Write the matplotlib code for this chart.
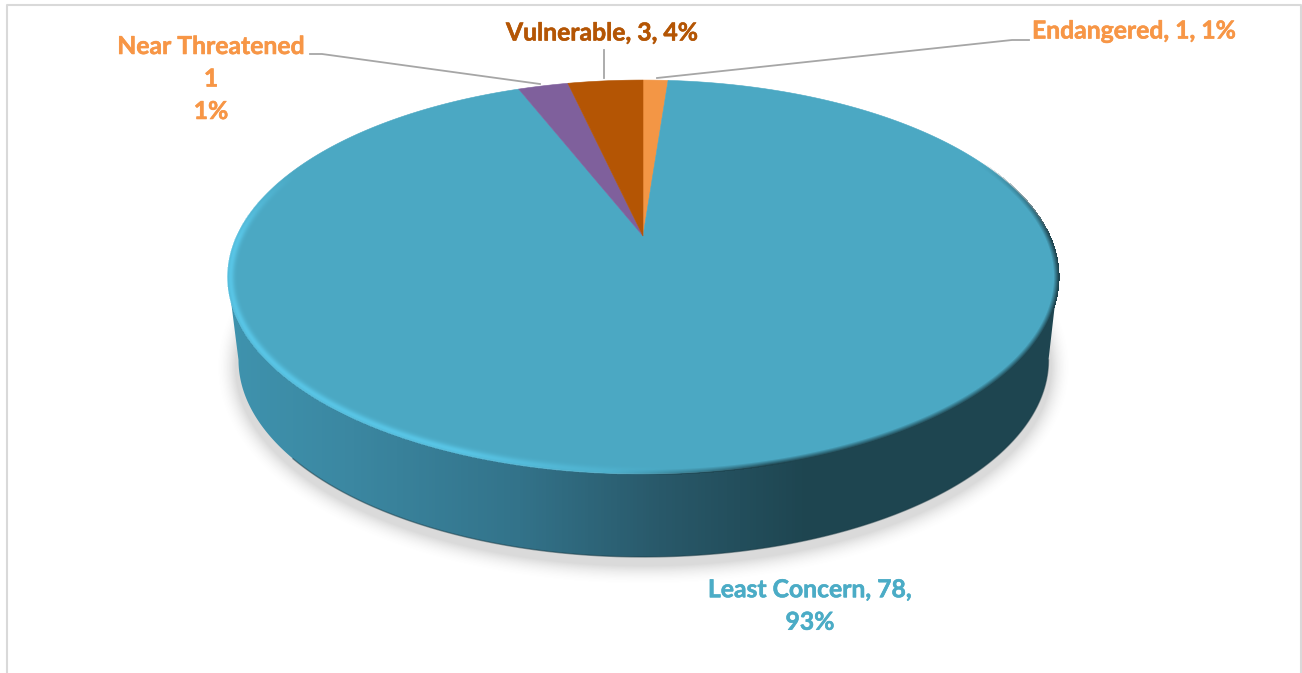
import numpy as np
import matplotlib
matplotlib.use("Agg")
import matplotlib.pyplot as plt
import matplotlib.patheffects as pe
from matplotlib.colors import LinearSegmentedColormap
from matplotlib.patches import Polygon

# clockwise from 12 o'clock. near threatened is labelled 1 but drawn wider, 2 fits the slice
categories = ["Endangered", "Least Concern", "Near Threatened", "Vulnerable"]
slice_values = [1, 78, 2, 3]
slice_colors = ["#F39645", "#4BA8C3", "#7F609C", "#B45504"]
label_texts = ["Endangered, 1, 1%", "Least Concern, 78,\n93%", "Near Threatened\n1\n1%", "Vulnerable, 3, 4%"]
label_colors = ["#F79646", "#4BACC6", "#F79646", "#B45504"]
label_pos = [(1134, 31), (810, 606), (211, 79), (602, 33)]
leader_lines = [[(1029, 40), (1012, 40), (657, 78)], None, [(310, 54), (322, 54), (540, 84)], [(604, 50), (604, 78)]]

# side wall shading, left to right across the disc
wall_stops = [(0.0, "#3F93AE"), (0.15, "#3B87A1"), (0.35, "#33738A"), (0.52, "#29596A"), (0.7, "#1E4550"), (1.0, "#1E4550")]

plt.rcParams["font.family"] = ["Lato", "DejaVu Sans"]

K = 0.208  # perspective strength of the tilted disc
fig = plt.figure(figsize=(13.02, 6.73), dpi=100)
ax = fig.add_axes([0, 0, 1, 1])


# tilted disc: circle (u, v) goes through a perspective map, so the apex is not the ellipse centre
def project(theta, r=1.0):
    u = r * np.sin(theta)
    v = r * np.cos(theta)
    w = 1 + K * v
    return 643 + 406 * u / w, 236 - 188.4 * v / w


def overlay(rgb, alpha, zorder):
    img = np.zeros(alpha.shape + (4,))
    img[..., :3] = rgb
    img[..., 3] = np.clip(alpha, 0, 1)
    ax.imshow(img, extent=(0, 1302, 673, 0), aspect="auto", zorder=zorder, interpolation="nearest")


def ramp(a, lo, hi):
    return np.clip((a - lo) / (hi - lo), 0, 1)


# outer chart frame
ax.plot([7, 7, 1300.5, 1300.5], [673, 5, 5, 673], color="#D9D9D9", lw=1.5, zorder=1)

px, py = np.meshgrid(np.arange(1302) + 0.5, np.arange(673) + 0.5)

# soft shadow under the disc
e = np.hypot((px - 643.5) / 408, (py - 367) / 199)
ge = np.hypot(*np.gradient(e))
overlay((0.35, 0.35, 0.35), 0.22 * (1 - ramp((e - 1) / ge, 0, 20)) ** 2 * (e > 0.9), 1.5)

# side wall
t0 = np.pi / 2 + np.arcsin(K)
front = np.linspace(t0, 2 * np.pi - t0, 360)
rim_x, rim_y = project(front)
base = np.linspace(np.pi / 2, 3 * np.pi / 2, 360)
low_x = 643.5 + 405 * np.sin(base)
low_y = 360 - 197 * np.cos(base)
wall = Polygon(np.r_[np.c_[rim_x, rim_y], np.c_[low_x, low_y][::-1]], closed=True, fc="none", ec="none")
ax.add_patch(wall)
cmap = LinearSegmentedColormap.from_list("wall", wall_stops)
im = ax.imshow(np.linspace(0, 1, 256)[None, :], cmap=cmap, extent=(228, 1058, 560, 270), aspect="auto", zorder=2)
im.set_clip_path(wall)
ax.plot(low_x[:300], low_y[:300], color="#1A3A44", alpha=0.5, lw=1, zorder=2.5)

# slices on the top face
edges = np.r_[0, np.cumsum(slice_values)] / sum(slice_values) * 2 * np.pi
for i, color in enumerate(slice_colors):
    ang = np.linspace(edges[i], edges[i + 1], 300)
    x, y = project(ang)
    ax.fill(np.r_[643, x], np.r_[236, y], color=color, lw=0.4, zorder=3)

# bevel along the rim: light on the left and front, dark blur on the right
yp = (236 - py) / 188.4
with np.errstate(divide="ignore", invalid="ignore"):
    v = yp / (1 - K * yp)
    u = (px - 643) / 406 * (1 + K * v)
r = np.hypot(u, v)
theta = np.mod(np.arctan2(u, v), 2 * np.pi)
dist = (1 - r) / np.hypot(*np.gradient(r))  # rough pixels inside the rim
bad = (1 - K * yp) <= 0
dist[bad] = -99

dark = ramp(theta, 0.36 * np.pi, 0.5 * np.pi) * (1 - ramp(theta, 0.92 * np.pi, 1.02 * np.pi))
overlay(np.array([0x1E, 0x45, 0x50]) / 255, dark * (1 - ramp(dist, -0.5, 4.5)) * (dist > -1.5), 4)

light = ramp(theta, 0.98 * np.pi, 1.12 * np.pi) * (1 - ramp(theta, 1.5 * np.pi, 1.62 * np.pi))
profile = np.exp(-(((dist - 2.5) / 3.8) ** 2)) * (dist > -1)
overlay(np.array([0x5C, 0xCC, 0xEE]) / 255, 0.8 * light * profile, 4)

ax.set_xlim(0, 1302)
ax.set_ylim(673, 0)
ax.axis("off")

for line in leader_lines:
    if line is not None:
        ax.plot(*zip(*line), color="#A6A6A6", lw=1.3, zorder=5)

for text, color, pos in zip(label_texts, label_colors, label_pos):
    ax.text(pos[0], pos[1], text, color=color, fontsize=17.8, fontweight="bold", ha="center", va="center",
            linespacing=1.5, zorder=6, path_effects=[pe.withStroke(linewidth=0.4, foreground=color)])

fig.savefig("out.png", dpi=100)
